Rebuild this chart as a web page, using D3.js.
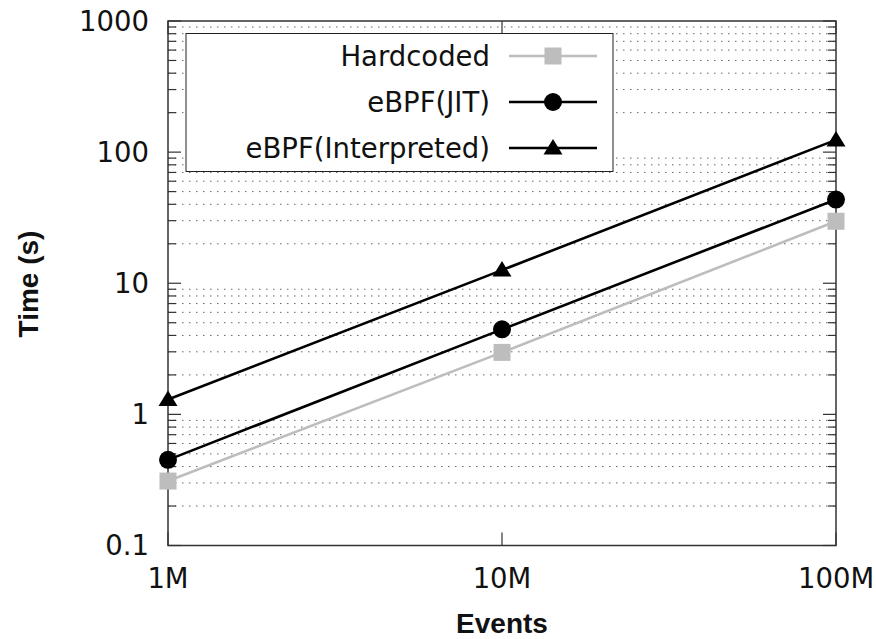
<!DOCTYPE html>
<html lang="en">
<head>
	<meta charset="UTF-8">
	<title>Time vs events</title>
	<script src="https://d3js.org/d3.v7.min.js"></script>
	<style>
		body { margin: 0; background-color: white; }
		svg { display: block; }
		.tick-label { font-family: "DejaVu Sans", sans-serif; font-size: 27.5px; fill: #111; }
		.axis-title { font-family: "Liberation Sans", Arial, sans-serif; font-weight: bold; font-size: 28px; fill: #111; }
		.legend text { font-family: "DejaVu Sans", sans-serif; font-size: 27.5px; fill: #111; }
	</style>
</head>
<body>
	<script>
		// data
		var events = [1e6, 1e7, 1e8];
		var xTickLabels = ['1M', '10M', '100M'];
		var yTicks = [0.1, 1, 10, 100, 1000];
		var yTickLabels = ['0.1', '1', '10', '100', '1000'];
		var hardcoded = [0.31, 2.97, 29.7];
		var jit = [0.45, 4.45, 43.5];
		var interpreted = [1.3, 12.6, 124];

		var seriesNames = ['Hardcoded', 'eBPF(JIT)', 'eBPF(Interpreted)'];
		var seriesColors = ['#bdbdbd', '#000', '#000'];
		var seriesMarks = ['square', 'circle', 'triangle'];
		var seriesData = [hardcoded, jit, interpreted];

		var W = 876, H = 639;
		var pL = 168, pR = 836, pT = 21, pB = 545.5;

		var svg = d3.select('body').append('svg')
			.attr('width', W)
			.attr('height', H);

		var x = d3.scaleLog().domain([1e6, 1e8]).range([pL, pR]);
		var y = d3.scaleLog().domain([0.1, 1000]).range([pB, pT]);

		// minor values 2..9 per decade
		var minor = [];
		yTicks.slice(0, -1).forEach(function (d) {
			for (var k = 2; k <= 9; k++) minor.push(d * k);
		});

		// dotted grid at minor ticks
		svg.append('g').selectAll('line')
			.data(minor)
			.enter().append('line')
			.attr('x1', pL).attr('x2', pR)
			.attr('y1', function (d) { return y(d); })
			.attr('y2', function (d) { return y(d); })
			.attr('stroke', '#666')
			.attr('stroke-width', 1)
			.attr('stroke-dasharray', '1.5,5.5');

		// y ticks, left and mirrored right
		var tickG = svg.append('g').attr('stroke', '#333').attr('stroke-width', 1.2);
		[[pL, 1], [pR, -1]].forEach(function (side) {
			tickG.append('g').selectAll('line.maj')
				.data(yTicks).enter().append('line')
				.attr('x1', side[0]).attr('x2', side[0] + side[1] * 13)
				.attr('y1', function (d) { return y(d); })
				.attr('y2', function (d) { return y(d); });
			tickG.append('g').selectAll('line.min')
				.data(minor).enter().append('line')
				.attr('x1', side[0]).attr('x2', side[0] + side[1] * 8)
				.attr('y1', function (d) { return y(d); })
				.attr('y2', function (d) { return y(d); });
		});
		// x ticks, bottom and top
		[[pB, -1], [pT, 1]].forEach(function (side) {
			tickG.append('g').selectAll('line')
				.data(events).enter().append('line')
				.attr('y1', side[0]).attr('y2', side[0] + side[1] * 13)
				.attr('x1', function (d) { return x(d); })
				.attr('x2', function (d) { return x(d); });
		});

		// legend box (covers grid)
		var legend = svg.append('g').attr('class', 'legend');
		legend.append('rect')
			.attr('x', 186).attr('y', 33.5)
			.attr('width', 427).attr('height', 138)
			.attr('fill', 'white')
			.attr('stroke', '#222')
			.attr('stroke-width', 1);

		// frame
		svg.append('rect')
			.attr('x', pL).attr('y', pT)
			.attr('width', pR - pL).attr('height', pB - pT)
			.attr('fill', 'none')
			.attr('stroke', '#333')
			.attr('stroke-width', 1.5);

		// tick labels
		svg.append('g').selectAll('text')
			.data(yTicks).enter().append('text')
			.attr('class', 'tick-label')
			.attr('x', 149)
			.attr('y', function (d) { return y(d); })
			.attr('dy', '0.36em')
			.attr('text-anchor', 'end')
			.text(function (d, i) { return yTickLabels[i]; });
		svg.append('g').selectAll('text')
			.data(events).enter().append('text')
			.attr('class', 'tick-label')
			.attr('x', function (d) { return x(d); })
			.attr('y', 588)
			.attr('text-anchor', 'middle')
			.text(function (d, i) { return xTickLabels[i]; });

		// axis titles
		svg.append('text')
			.attr('class', 'axis-title')
			.attr('x', 502).attr('y', 633)
			.attr('text-anchor', 'middle')
			.text('Events');
		svg.append('text')
			.attr('class', 'axis-title')
			.attr('transform', 'translate(38,284) rotate(-90)')
			.attr('text-anchor', 'middle')
			.text('Time (s)');

		function drawMark(g, kind, cx, cy, color) {
			if (kind === 'square') {
				g.append('rect')
					.attr('x', cx - 8.5).attr('y', cy - 8.5)
					.attr('width', 17).attr('height', 17)
					.attr('fill', color);
			} else if (kind === 'circle') {
				g.append('circle')
					.attr('cx', cx).attr('cy', cy).attr('r', 9)
					.attr('fill', color);
			} else {
				g.append('path')
					.attr('d', 'M' + cx + ',' + (cy - 9) + 'L' + (cx + 9.5) + ',' + (cy + 6.5) + 'L' + (cx - 9.5) + ',' + (cy + 6.5) + 'Z')
					.attr('fill', color);
			}
		}

		// series
		var line = d3.line()
			.x(function (d, i) { return x(events[i]); })
			.y(function (d) { return y(d); });

		var plot = svg.append('g');
		seriesData.forEach(function (vals, s) {
			plot.append('path')
				.attr('d', line(vals))
				.attr('fill', 'none')
				.attr('stroke', seriesColors[s])
				.attr('stroke-width', 2.6);
			vals.forEach(function (v, i) {
				drawMark(plot, seriesMarks[s], x(events[i]), y(v), seriesColors[s]);
			});
		});

		// legend entries
		var rowY = [56, 102, 148];
		seriesNames.forEach(function (name, s) {
			legend.append('text')
				.attr('x', 490).attr('y', rowY[s])
				.attr('dy', '0.36em')
				.attr('text-anchor', 'end')
				.text(name);
			legend.append('line')
				.attr('x1', 509).attr('x2', 597)
				.attr('y1', rowY[s]).attr('y2', rowY[s])
				.attr('stroke', seriesColors[s])
				.attr('stroke-width', 2.6);
			drawMark(legend, seriesMarks[s], 553, rowY[s], seriesColors[s]);
		});
	</script>
</body>
</html>
